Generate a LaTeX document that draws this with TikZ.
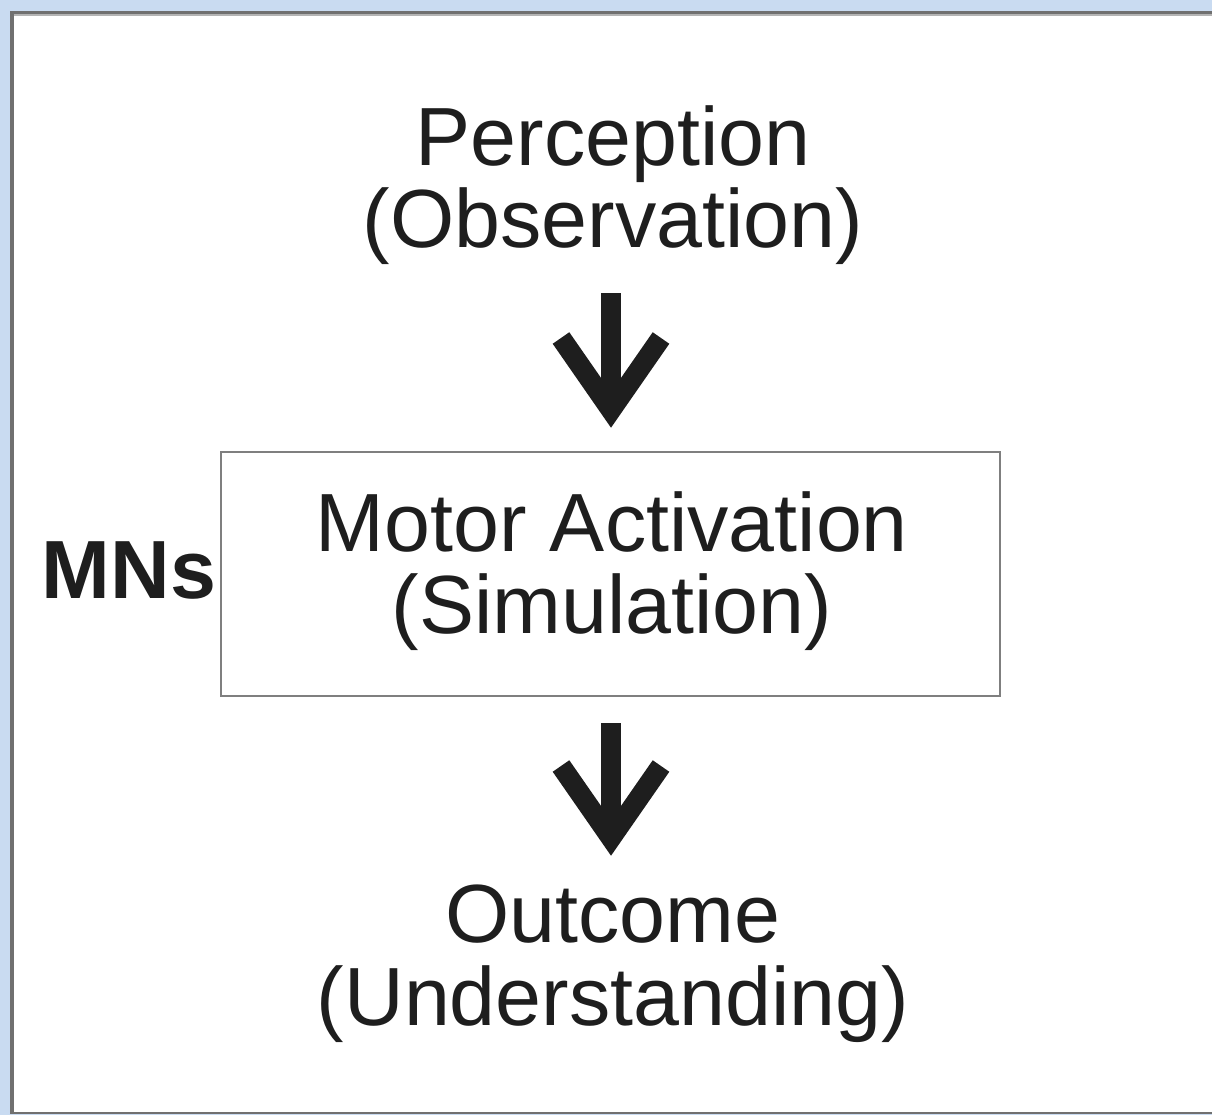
\documentclass[tikz,border=0pt]{standalone}
\usepackage{fontspec}
\setmainfont{Liberation Sans}
\usetikzlibrary{calc}
\definecolor{bgblue}{HTML}{C9DBF1}
\definecolor{frame}{HTML}{707070}
\definecolor{framelight}{HTML}{B4B4B4}
\definecolor{ink}{HTML}{1E1E1E}
\definecolor{boxgray}{HTML}{7F7F7F}
\begin{document}
\begin{tikzpicture}[x=0.02cm,y=-0.02cm,
  lbl/.style={font=\fontsize{47}{47}\selectfont, text=ink, align=center, inner sep=0pt},
  mnbox/.style={draw=boxgray, line width=1.3pt, minimum width=779*0.02cm, minimum height=244*0.02cm, inner sep=0pt},
  shaft/.style={draw=ink, line width=11.5pt},
  chev/.style={draw=ink, line width=11.5pt, line join=miter}]
  % background and frame
  \fill[bgblue] (0,0) rectangle (1212,1115);
  \fill[white] (10,11) rectangle (1212,1113);
  \fill[frame] (10,11) rectangle (1212,14);
  \fill[framelight] (14,14) rectangle (1212,16);
  \fill[frame] (10,11) rectangle (14,1113);
  \fill[frame] (10,1112) rectangle (1212,1114);
  \useasboundingbox (0,0) rectangle (1212,1115);

  % nodes
  \node[lbl] (perc) at (613,185) {Perception\\(Observation)};
  \node[mnbox] (box) at (610.5,574) {};
  \node[lbl] (motor) at (612,571) {Motor Activation\\(Simulation)};
  \node[lbl, font=\fontsize{47}{47}\selectfont\bfseries, anchor=base] (mns) at (129,598) {MNs};
  \node[lbl] (out) at (613,964) {Outcome\\(Understanding)};

  % arrows
  \coordinate (a1top) at (611,293);
  \coordinate (a1v) at (611,410);
  \coordinate (a2top) at (611,723);
  \coordinate (a2v) at (611,838);
  \draw[shaft] (a1top) -- (a1v);
  \draw[chev] ($(a1v)+(-50,-72)$) -- (a1v) -- ($(a1v)+(50,-72)$);
  \draw[shaft] (a2top) -- (a2v);
  \draw[chev] ($(a2v)+(-50,-72)$) -- (a2v) -- ($(a2v)+(50,-72)$);
\end{tikzpicture}
\end{document}
